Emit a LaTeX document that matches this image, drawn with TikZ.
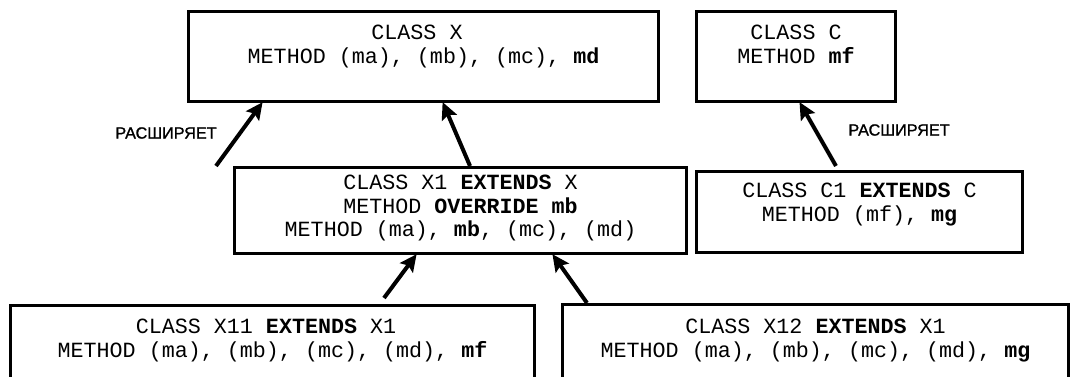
\documentclass[tikz,border=0pt]{standalone}
\usepackage{fontspec}
\usetikzlibrary{arrows.meta}
\newfontfamily\codefont{Liberation Mono}
\newfontfamily\labfont[FakeBold=1.3]{Liberation Sans}
\newcommand\classtext[4]{\parbox[c][#2][t]{#1}{\centering\codefont\fontsize{21.7pt}{22pt}\selectfont\vspace*{#3}#4}}
\tikzset{
  classbox/.style={draw, line width=3pt, inner sep=0pt, anchor=north west},
  arr/.style={line width=4pt, -{Stealth[length=17pt,width=16pt,inset=3pt]}, shorten >=-1pt},
  lab/.style={font=\labfont\fontsize{16.2pt}{17pt}\selectfont, inner sep=0pt}
}
\begin{document}
\begin{tikzpicture}[x=1pt,y=-1pt]
\useasboundingbox (0,0) rectangle (1086,377);
\clip (0,0) rectangle (1086,377);
\node[classbox] (X) at (187,10) {\classtext{470pt}{90pt}{13pt}{CLASS X\phantom{ }\strut\\METHOD (ma), (mb), (mc), \textbf{md}\strut}};
\node[classbox] (C) at (695,10) {\classtext{199pt}{90pt}{13pt}{CLASS C\strut\\METHOD \textbf{mf}\strut}};
\node[classbox] (X1) at (233,166) {\classtext{452pt}{86pt}{7pt}{CLASS X1 \textbf{EXTENDS} X\strut\\METHOD \textbf{OVERRIDE mb}\strut\\METHOD (ma), \textbf{mb}, (mc), (md)\strut}};
\node[classbox] (C1) at (695,170) {\classtext{326pt}{81pt}{11pt}{CLASS C1 \textbf{EXTENDS} C\strut\\METHOD (mf), \textbf{mg}\strut}};
\node[classbox] (X11) at (9,304) {\classtext{524pt}{100pt}{13pt}{CLASS X11 \textbf{EXTENDS} X1\phantom{ }\strut\\METHOD (ma), (mb), (mc), (md), \textbf{mf}\strut}\hspace{11pt}};
\node[classbox] (X12) at (561,303) {\classtext{506pt}{100pt}{14pt}{CLASS X12 \textbf{EXTENDS} X1\strut\\METHOD (ma), (mb), (mc), (md), \textbf{mg}\strut}\hspace{60pt}};
\node[lab] (L1) at (166,133) {РАСШИРЯЕТ};
\node[lab] (L2) at (899,130) {РАСШИРЯЕТ};
\coordinate (s1) at (216,166);
\draw[arr] (s1) -- ([xshift=75pt]X.south west);
\draw[arr] ([xshift=237pt]X1.north west) -- ([xshift=256pt]X.south west);
\draw[arr] ([xshift=141pt,yshift=4pt]C1.north west) -- ([xshift=105pt]C.south west);
\draw[arr] ([xshift=375pt,yshift=6pt]X11.north west) -- ([xshift=183pt]X1.south west);
\draw[arr] ([xshift=26pt]X12.north west) -- ([xshift=320pt]X1.south west);
\end{tikzpicture}
\end{document}
